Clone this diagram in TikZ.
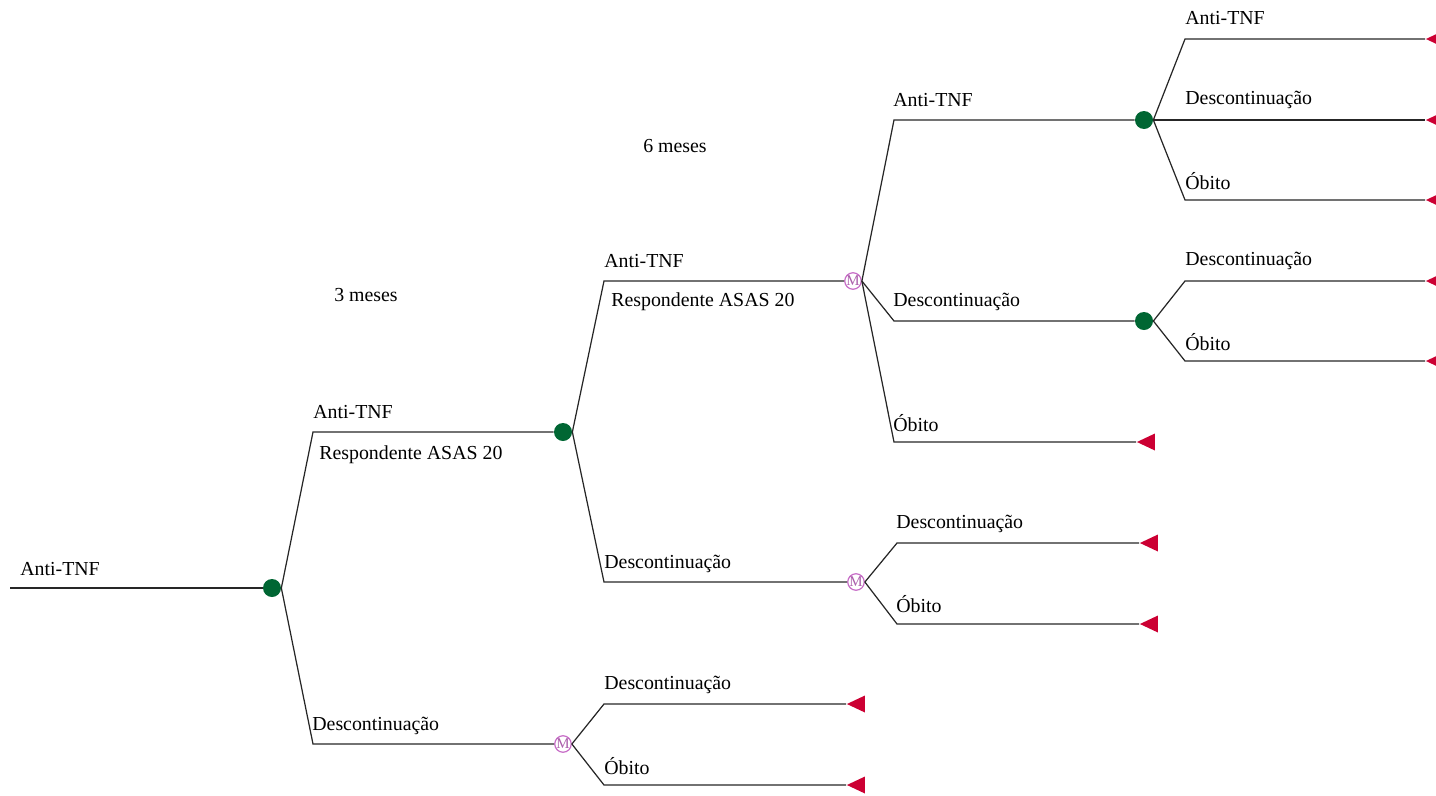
\documentclass[tikz,border=0pt]{standalone}
\usepackage{fontspec}
\setmainfont{Liberation Serif}
\usetikzlibrary{shapes.geometric,positioning}
\definecolor{chancegreen}{RGB}{0,102,51}
\definecolor{termred}{RGB}{204,0,51}
\definecolor{markovpink}{RGB}{200,110,200}
\begin{document}
\begin{tikzpicture}[x=0.02cm,y=-0.02cm]
  \tikzstyle{chance}=[circle,fill=chancegreen,minimum size=18*0.02cm,inner sep=0pt]
  \tikzstyle{markov}=[circle,draw=markovpink,fill=white,line width=0.7pt,minimum size=16*0.02cm,inner sep=0pt,text=markovpink!85!black,font=\fontsize{8.5}{8.5}\selectfont]
  \tikzstyle{term}=[isosceles triangle,shape border rotate=180,isosceles triangle stretches,fill=termred,minimum height=18*0.02cm,minimum width=17*0.02cm,inner sep=0pt,anchor=apex]
  \tikzstyle{lbl}=[anchor=west,inner sep=0pt,font=\fontsize{11.3}{13}\selectfont]
  \tikzstyle{br}=[line width=0.7pt,draw=black!85]
  \useasboundingbox (0,0) rectangle (1436,795);
  \clip (0,0) rectangle (1436,795);
  % root
  \coordinate (start) at (10,588);
  \node[chance] (c1) at (272,588) {};
  \node[lbl] (l0) at (20,569) {Anti-TNF};
  \draw[br] (start) -- (c1);
  \node[font=\fontsize{11.3}{13}\selectfont] (t3m) at (366,295) {3 meses};
  \node[font=\fontsize{11.3}{13}\selectfont] (t6m) at (675,146) {6 meses};
  % 3 meses
  \coordinate (k11) at (313,432);
  \coordinate (k12) at (313,744);
  \node[chance] (c2) at (563,432) {};
  \node[markov] (m1) at (563,744) {M};
  \draw[br] (c1.east) -- (k11) -- (c2);
  \draw[br] (c1.east) -- (k12) -- (m1);
  \node[lbl] at (313,412) {Anti-TNF};
  \node[lbl] at (319,455) {Respondente ASAS 20};
  \node[lbl] at (312,726) {Descontinuação};
  % 6 meses, respondente
  \coordinate (k21) at (604,281);
  \coordinate (k22) at (604,582);
  \node[markov] (m2) at (853,281) {M};
  \node[markov] (m3) at (856,582) {M};
  \draw[br] (c2.east) -- (k21) -- (m2);
  \draw[br] (c2.east) -- (k22) -- (m3);
  \node[lbl] at (604,261) {Anti-TNF};
  \node[lbl] at (611,302) {Respondente ASAS 20};
  \node[lbl] at (604,564) {Descontinuação};
  % descontinuacao (3 meses)
  \coordinate (k31) at (604,704);
  \coordinate (k32) at (604,785);
  \node[term] (t1) at (846,704) {};
  \node[term] (t2) at (846,785) {};
  \draw[br] (m1.east) -- (k31) -- (t1);
  \draw[br] (m1.east) -- (k32) -- (t2);
  \node[lbl] at (604,685) {Descontinuação};
  \node[lbl] at (604,766) {Óbito};
  % markov respondente
  \coordinate (k41) at (894,120);
  \coordinate (k42) at (894,321);
  \coordinate (k43) at (894,442);
  \node[chance] (c3) at (1144,120) {};
  \node[chance] (c4) at (1144,321) {};
  \node[term] (t3) at (1136,442) {};
  \draw[br] (m2.east) -- (k41) -- (c3);
  \draw[br] (m2.east) -- (k42) -- (c4);
  \draw[br] (m2.east) -- (k43) -- (t3);
  \node[lbl] at (893,100) {Anti-TNF};
  \node[lbl] at (893,302) {Descontinuação};
  \node[lbl] at (893,423) {Óbito};
  % markov descontinuacao
  \coordinate (k51) at (897,543);
  \coordinate (k52) at (897,624);
  \node[term] (t4) at (1139,543) {};
  \node[term] (t5) at (1139,624) {};
  \draw[br] (m3.east) -- (k51) -- (t4);
  \draw[br] (m3.east) -- (k52) -- (t5);
  \node[lbl] at (896,524) {Descontinuação};
  \node[lbl] at (896,604) {Óbito};
  % anti-TNF, ciclo seguinte
  \coordinate (k61) at (1185,39);
  \coordinate (k63) at (1185,200);
  \node[term] (t6) at (1425,39) {};
  \node[term] (t7) at (1425,120) {};
  \node[term] (t8) at (1425,200) {};
  \draw[br] (c3.east) -- (k61) -- (t6);
  \draw[br] (c3.east) -- (t7);
  \draw[br] (c3.east) -- (k63) -- (t8);
  \node[lbl] at (1185,18) {Anti-TNF};
  \node[lbl] at (1185,100) {Descontinuação};
  \node[lbl] at (1185,181) {Óbito};
  % descontinuacao, ciclo seguinte
  \coordinate (k71) at (1185,281);
  \coordinate (k72) at (1185,361);
  \node[term] (t9) at (1425,281) {};
  \node[term] (t10) at (1425,361) {};
  \draw[br] (c4.east) -- (k71) -- (t9);
  \draw[br] (c4.east) -- (k72) -- (t10);
  \node[lbl] at (1185,261) {Descontinuação};
  \node[lbl] at (1185,342) {Óbito};
\end{tikzpicture}
\end{document}
